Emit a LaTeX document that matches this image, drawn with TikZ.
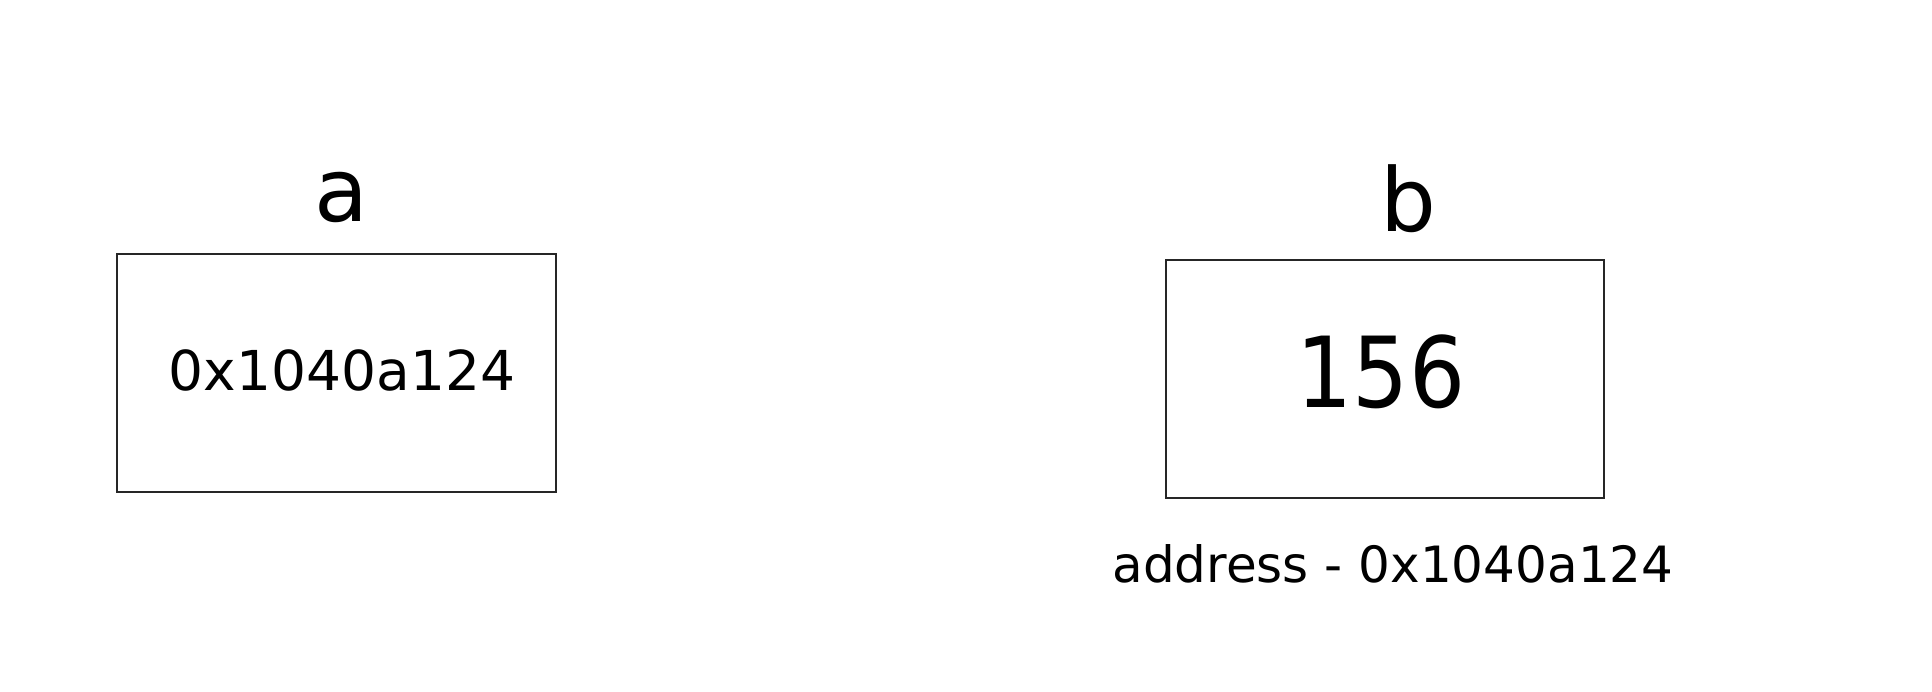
\documentclass[tikz,border=0pt]{standalone}
\usepackage{fontspec}
\setmainfont{DejaVu Sans}
\newfontfamily\condfont{DejaVu Sans Condensed}
\begin{document}
\begin{tikzpicture}[x=1pt,y=-1pt,
  cell/.style={draw=black!85,line width=2pt},
  lbl/.style={anchor=base,inner sep=0pt,font=\fontsize{88}{88}\selectfont},
  val/.style={anchor=base,inner sep=0pt}]
\useasboundingbox (0,0) rectangle (1932,692);
\fill[white] (0,0) rectangle (1932,692);
\draw[cell] (117,254) rectangle (556,492);
\draw[cell] (1166,260) rectangle (1604,498);
\node[lbl] (la) at (341,222) {a};
\node[lbl] (lb) at (1408,232) {b};
\node[val,font=\fontsize{55}{55}\selectfont] (va) at (342,390) {0x1040a124};
\node[val,font=\condfont\fontsize{98}{98}\selectfont] (vb) at (1381,407) {156};
\node[val,font=\fontsize{50}{50}\selectfont] (addr) at (1393,582) {address - 0x1040a124};
\end{tikzpicture}
\end{document}
